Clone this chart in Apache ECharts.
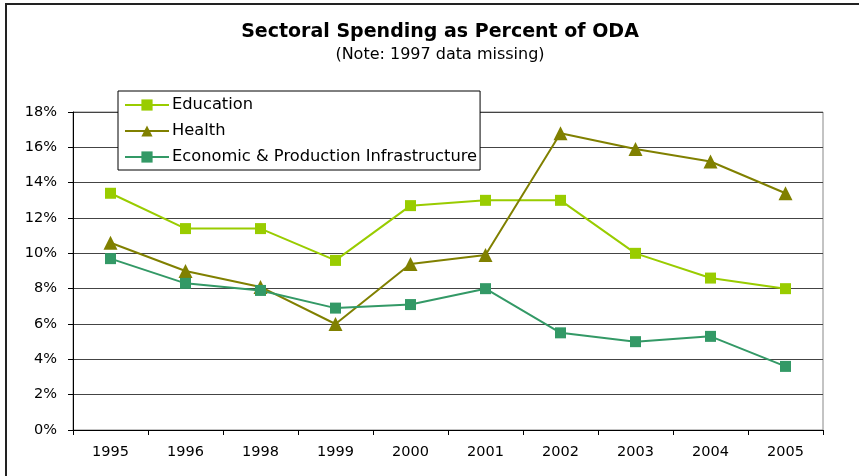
<!DOCTYPE html>
<html>
<head>
<meta charset="utf-8">
<script src="https://cdn.jsdelivr.net/npm/echarts@6/dist/echarts.min.js"></script>
<style>
  html, body { margin:0; padding:0; background:#fff; }
  #wrap { position:relative; width:859px; height:476px; }
  #frame { position:absolute; left:5px; top:3px; right:0; bottom:0; border-top:2px solid #222; border-left:2px solid #222; }
  #chart { position:absolute; left:0; top:0; width:859px; height:476px; }
</style>
</head>
<body>
<div id="wrap">
  <div id="frame"></div>
  <div id="chart"></div>
</div>
<script>
// years (1997 missing)
const years = ['1995', '1996', '1998', '1999', '2000', '2001', '2002', '2003', '2004', '2005']
// percent of ODA
const education = [13.4, 11.4, 11.4, 9.6, 12.7, 13.0, 13.0, 10.0, 8.6, 8.0]
const health = [10.6, 9.0, 8.1, 6.0, 9.4, 9.9, 16.8, 15.9, 15.2, 13.4]
const infrastructure = [9.7, 8.3, 7.9, 6.9, 7.1, 8.0, 5.5, 5.0, 5.3, 3.6]

const fontFam = 'DejaVu Sans, Verdana, sans-serif'

function lineSeries(name, data, color, symbol, size) {
  return {
    name: name,
    type: 'line',
    data: data,
    symbol: symbol,
    symbolSize: size,
    showAllSymbol: true,
    lineStyle: { color: color, width: 2 },
    itemStyle: { color: color },
    emphasis: { disabled: true }
  }
}

let myChart = echarts.init(document.getElementById('chart'))
myChart.setOption({
  animation: false,
  title: {
    text: 'Sectoral Spending as Percent of ODA',
    subtext: '(Note: 1997 data missing)',
    left: 435,
    textAlign: 'center',
    top: 18,
    itemGap: 5,
    textStyle: { fontFamily: fontFam, fontSize: 19, fontWeight: 'bold', color: '#000' },
    subtextStyle: { fontFamily: fontFam, fontSize: 16, color: '#000' }
  },
  legend: {
    orient: 'vertical',
    left: 118,
    top: 91,
    padding: [6, 3, 5, 6],
    itemGap: 10,
    itemWidth: 44,
    itemHeight: 14,
    backgroundColor: '#fff',
    borderColor: '#000',
    borderWidth: 1,
    textStyle: { fontFamily: fontFam, fontSize: 16.3, color: '#000', padding: [0, 0, 0, -2] },
    data: ['Education', 'Health', 'Economic & Production Infrastructure']
  },
  grid: {
    left: 73,
    right: 36,
    top: 112,
    bottom: 46,
    show: true,
    borderColor: '#888',
    borderWidth: 1
  },
  xAxis: {
    type: 'category',
    data: years,
    boundaryGap: true,
    axisLine: { lineStyle: { color: '#000', width: 1 } },
    axisTick: { show: true, length: 5, lineStyle: { color: '#000' } },
    axisLabel: { fontFamily: fontFam, fontSize: 14.5, color: '#000', margin: 15 }
  },
  yAxis: {
    type: 'value',
    min: 0,
    max: 18,
    interval: 2,
    axisLine: { show: true, lineStyle: { color: '#000', width: 1 } },
    axisTick: { show: true, length: 5, lineStyle: { color: '#000' } },
    axisLabel: { fontFamily: fontFam, fontSize: 14.5, color: '#000', margin: 16, formatter: '{value}%' },
    splitLine: { lineStyle: { color: '#444', width: 1 } }
  },
  series: [
    lineSeries('Education', education, '#99cc00', 'rect', 11),
    lineSeries('Health', health, '#808000', 'triangle', 14),
    lineSeries('Economic & Production Infrastructure', infrastructure, '#339966', 'rect', 11)
  ]
})
</script>
</body>
</html>
